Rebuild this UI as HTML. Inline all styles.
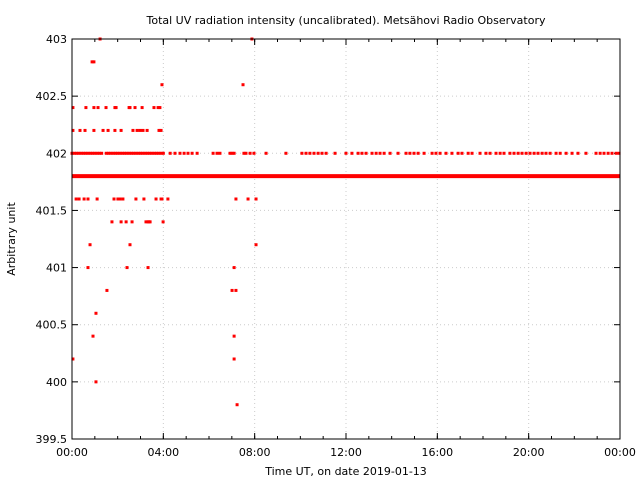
<!DOCTYPE html>
<html><head><meta charset="utf-8"><style>
body{margin:0;background:#fff}
svg{display:block;font-family:"DejaVu Sans","Liberation Sans",sans-serif;font-size:11px}
</style></head><body>
<svg id="c" width="640" height="480"></svg>
<script>
const yTicks=[399.5,400,400.5,401,401.5,402,402.5,403];
const yTickLabels=["399.5","400","400.5","401","401.5","402","402.5","403"];
const xTicks=[0,4,8,12,16,20,24];
const xTickLabels=["00:00","04:00","08:00","12:00","16:00","20:00","00:00"];
const baselineStart=0, baselineEnd=24, baselineValue=401.8;
const row402=[0,0.1,0.2,0.3,0.4,0.5,0.6,0.7,0.8,0.9,1.0,1.1,1.2,1.3,1.5,1.6,1.7,1.8,1.9,2.0,2.1,2.2,2.3,2.4,2.5,2.6,2.7,2.8,2.9,3.0,3.1,3.2,3.3,3.4,3.5,3.6,3.7,3.8,3.9,4.0,4.3,4.51,4.73,4.91,5.08,5.26,5.48,6.18,6.35,6.48,6.92,7.01,7.10,7.53,7.62,7.80,7.97,8.5,9.37,10.07,10.25,10.42,10.6,10.78,10.95,11.13,11.52,12.0,12.26,12.53,12.7,12.88,13.14,13.32,13.49,13.67,13.93,14.28,14.63,14.8,14.98,15.16,15.42,15.77,15.94,16.12,16.38,16.64,16.91,17.08,17.35,17.52,17.87,18.13,18.31,18.57,18.75,18.92,19.18,19.36,19.54,19.71,19.89,20.06,20.24,20.41,20.59,20.76,20.94,21.2,21.38,21.64,21.9,22.16,22.51,22.95,23.13,23.3,23.48,23.65,23.83,23.96];
const outT=[1.23,7.88,0.88,0.96,3.94,7.49,
0.04,0.61,0.96,1.14,1.49,1.88,1.93,2.50,2.54,2.76,3.07,3.59,3.77,3.85,
0.04,0.35,0.57,0.96,1.36,1.58,1.88,2.15,2.67,2.85,2.98,3.11,3.29,3.81,3.90,
0.18,0.31,0.53,0.70,1.10,1.84,2.01,2.10,2.23,2.80,3.15,3.68,3.90,3.94,4.20,7.18,7.71,8.06,
1.75,2.15,2.37,2.63,3.24,3.33,3.37,3.42,3.99,
0.79,2.54,8.06,
0.70,2.41,3.33,7.10,
1.53,7.01,7.18,
1.05,0.92,7.10,0.04,7.10,1.05,7.23];
const outV=[403,403,402.8,402.8,402.6,402.6,
402.4,402.4,402.4,402.4,402.4,402.4,402.4,402.4,402.4,402.4,402.4,402.4,402.4,402.4,
402.2,402.2,402.2,402.2,402.2,402.2,402.2,402.2,402.2,402.2,402.2,402.2,402.2,402.2,402.2,
401.6,401.6,401.6,401.6,401.6,401.6,401.6,401.6,401.6,401.6,401.6,401.6,401.6,401.6,401.6,401.6,401.6,401.6,
401.4,401.4,401.4,401.4,401.4,401.4,401.4,401.4,401.4,
401.2,401.2,401.2,
401,401,401,401,
400.8,400.8,400.8,
400.6,400.4,400.4,400.2,400.2,400,399.8];
const L=72,R=620,T=39,B=439;
const sx=h=>L+(h-0)/24*(R-L);
const sy=v=>B-(v-399.5)/3.5*(B-T);
const svg=document.getElementById('c');
const NS='http://www.w3.org/2000/svg';
function mk(tag,attrs,name){const e=document.createElementNS(NS,tag);for(const k in attrs)e.setAttribute(k,attrs[k]);


svg.appendChild(e);return e;}
// grid
yTicks.forEach((v,i)=>{if(i>0&&i<yTicks.length-1)mk('line',{x1:L,x2:R,y1:sy(v),y2:sy(v),stroke:'#ccc','stroke-dasharray':'1,3'},'y-grid-line');});
xTicks.forEach((h,i)=>{if(i>0&&i<xTicks.length-1)mk('line',{x1:sx(h),x2:sx(h),y1:T,y2:B,stroke:'#ccc','stroke-dasharray':'1,3'},'x-grid-line');});
// minor ticks
for(let h=1;h<24;h++){mk('line',{x1:sx(h),x2:sx(h),y1:B,y2:B-3,stroke:'#000'},'x-minor-tick');mk('line',{x1:sx(h),x2:sx(h),y1:T,y2:T+3,stroke:'#000'},'x-minor-tick');}
xTicks.forEach((h,i)=>{mk('line',{x1:sx(h),x2:sx(h),y1:B,y2:B-6,stroke:'#000'},'x-tick');mk('line',{x1:sx(h),x2:sx(h),y1:T,y2:T+6,stroke:'#000'},'x-tick');
const t=mk('text',{x:sx(h),y:B+17,'text-anchor':'middle'},'x-tick-label');t.textContent=xTickLabels[i];});
yTicks.forEach((v,i)=>{mk('line',{x1:L,x2:L+6,y1:sy(v),y2:sy(v),stroke:'#000'},'y-tick');mk('line',{x1:R,x2:R-6,y1:sy(v),y2:sy(v),stroke:'#000'},'y-tick');
const t=mk('text',{x:L-5,y:sy(v)+4,'text-anchor':'end'},'y-tick-label');t.textContent=yTickLabels[i];});
// baseline
mk('line',{x1:sx(baselineStart),x2:sx(baselineEnd),y1:sy(baselineValue),y2:sy(baselineValue),stroke:'#f00','stroke-width':4},'baseline-series');
row402.forEach(h=>mk('rect',{x:sx(h)-1.5,y:sy(402)-1.5,width:3,height:3,fill:'#f00'},'point-402'));
outT.forEach((h,i)=>mk('rect',{x:sx(h)-1.5,y:sy(outV[i])-1.5,width:3,height:3,fill:'#f00'},'outlier-point'));
mk('rect',{x:L,y:T,width:R-L,height:B-T,fill:'none',stroke:'#000'},'plot-frame');
let t=mk('text',{x:346,y:24,'text-anchor':'middle'},'chart-title');t.textContent='Total UV radiation intensity (uncalibrated). Metsähovi Radio Observatory';
t=mk('text',{x:346,y:475,'text-anchor':'middle'},'x-axis-title');t.textContent='Time UT, on date 2019-01-13';
t=mk('text',{x:15,y:239,'text-anchor':'middle',transform:'rotate(-90 15 239)'},'y-axis-title');t.textContent='Arbitrary unit';
</script>
</body></html>
